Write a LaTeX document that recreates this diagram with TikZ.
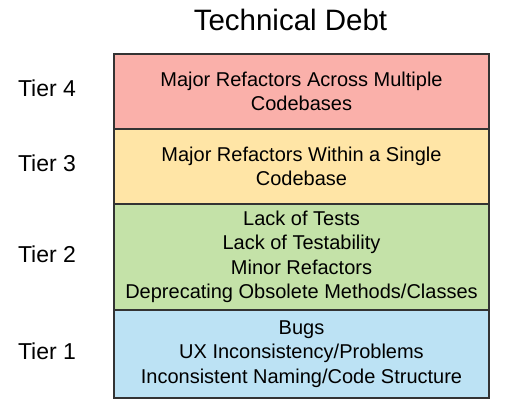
\documentclass[tikz,border=0pt]{standalone}
\usepackage{fontspec}
\setmainfont{Liberation Sans}
\usetikzlibrary{positioning}
\definecolor{tierred}{RGB}{250,176,170}
\definecolor{tieryellow}{RGB}{255,229,166}
\definecolor{tiergreen}{RGB}{196,226,168}
\definecolor{tierblue}{RGB}{188,226,244}
\definecolor{edgegray}{RGB}{51,51,51}
\tikzset{
  tierbox/.style={draw=edgegray, line width=1.5pt, minimum width=375pt, inner sep=0pt,
    outer sep=0pt, align=center, font=\fontsize{20}{24.5}\selectfont},
  tierlabel/.style={font=\fontsize{23}{26}\selectfont, yshift=3pt}
}
\begin{document}
\begin{tikzpicture}[x=1pt, y=-1pt]
  \useasboundingbox (0,0) rectangle (507,412);
  \node[font=\fontsize{29.5}{32}\selectfont] (title) at (290.5,20) {Technical Debt};
  \node[tierbox, fill=tierred, minimum height=75pt] (t4) at (301.5,91.5)
    {Major Refactors Across Multiple\\Codebases};
  \node[tierbox, fill=tieryellow, minimum height=75pt, below=0pt of t4] (t3)
    {Major Refactors Within a Single\\Codebase};
  \node[tierbox, fill=tiergreen, minimum height=106pt, below=0pt of t3] (t2)
    {Lack of Tests\\Lack of Testability\\Minor Refactors\\Deprecating Obsolete Methods/Classes};
  \node[tierbox, fill=tierblue, minimum height=88pt, below=0pt of t2] (t1)
    {Bugs\\UX Inconsistency/Problems\\Inconsistent Naming/Code Structure};
  \node[tierlabel] (l4) at (t4 -| 47,0) {Tier 4};
  \node[tierlabel] (l3) at (t3 -| 47,0) {Tier 3};
  \node[tierlabel] (l2) at (t2 -| 47,0) {Tier 2};
  \node[tierlabel] (l1) at (t1 -| 47,0) {Tier 1};
\end{tikzpicture}
\end{document}
